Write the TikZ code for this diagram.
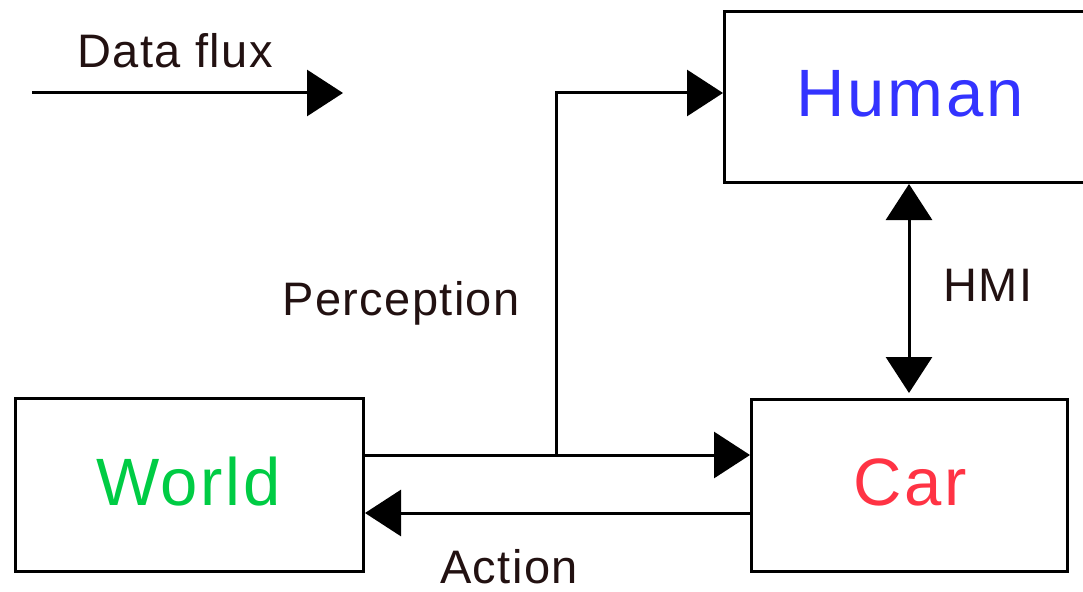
\documentclass[tikz,border=0pt]{standalone}
\usepackage{fontspec}
\setmainfont{Liberation Sans}
\newfontfamily\labelfont[LetterSpace=3]{Liberation Sans}
\newfontfamily\bigfont[LetterSpace=4]{Liberation Sans}
\usetikzlibrary{arrows.meta}
\definecolor{humancol}{HTML}{3333FF}
\definecolor{worldcol}{HTML}{00CC44}
\definecolor{carcol}{HTML}{FF3344}
\definecolor{labelcol}{HTML}{221111}
\begin{document}
\begin{tikzpicture}[x=1pt,y=-1pt,
  box/.style={draw,line width=3pt,inner sep=0pt,anchor=north west},
  big/.style={font=\bigfont\fontsize{67}{67}\selectfont,anchor=base,inner sep=0pt},
  small/.style={font=\labelfont\fontsize{47}{47}\selectfont,anchor=base,inner sep=0pt,text=labelcol},
  conn/.style={line width=3pt,-{Triangle[length=36pt,width=46pt]}},
  dconn/.style={line width=3pt,{Triangle[length=36pt,width=46pt]}-{Triangle[length=36pt,width=46pt]}},
]
\useasboundingbox (0,0) rectangle (1083,591);
\clip (0,0) rectangle (1083,591);
% boxes
\node[box,minimum width=374pt,minimum height=171pt] (human) at (723,10) {};
\node[box,minimum width=316pt,minimum height=172pt] (car) at (750,398) {};
\node[box,minimum width=348pt,minimum height=173pt] (world) at (14,397) {};
% box texts
\node[big,text=humancol] (humantext) at (910,117) {Human};
\node[big,text=worldcol] (worldtext) at (188.5,505) {World};
\node[big,text=carcol] (cartext) at (910,505) {Car};
% labels
\node[small] (dflabel) at (175,68) {Data flux};
\node[small] (perclabel) at (401,315) {Perception};
\node[small] (hmilabel) at (988,301) {HMI};
\node[small,text depth=0pt] (actlabel) at (509,583) {Action};
% helper coordinates
\coordinate (df0) at (32,93);
\coordinate (df1) at (343,93);
\coordinate (perc) at (556,455);
\coordinate (hy) at (0,93);
\coordinate (act) at (0,513);
\coordinate (hmix) at (909,0);
% connectors
\draw[conn] (df0) -- (df1);
\draw[conn] (world.east |- perc) -- (car.west |- perc);
\draw[conn] (perc) |- (human.west |- hy);
\draw[conn] (car.west |- act) -- (world.east |- act);
\draw[dconn,shorten <=5pt] (car.north -| hmix) -- (human.south -| hmix);
\end{tikzpicture}
\end{document}
